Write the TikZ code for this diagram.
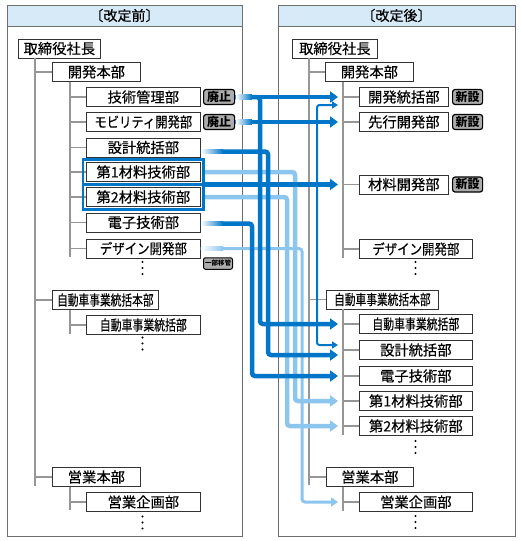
\documentclass[tikz,border=0pt]{standalone}
\usepackage{fontspec}
\newfontfamily\jp[FakeBold=0.35]{Noto Sans CJK JP}
\newfontfamily\jpb{Noto Sans CJK JP}
\usetikzlibrary{arrows.meta,calc,fit}
\definecolor{dk}{RGB}{0,118,200}
\definecolor{lt}{RGB}{140,198,238}
\definecolor{hdr}{RGB}{214,234,248}
\definecolor{gl}{RGB}{150,150,150}
\definecolor{pn}{RGB}{110,110,110}
\definecolor{tagfill}{RGB}{172,172,172}
\newcommand{\cond}[2]{\scalebox{#1}[1]{#2}}
\begin{document}
\begin{tikzpicture}[x=1pt,y=-1pt,
  box/.style={draw=black!80, line width=0.7pt, fill=white, minimum height=19pt, inner sep=0pt, anchor=west, font=\jp\fontsize{14.3}{14.3}\selectfont},
  tagbox/.style={draw=black, line width=1.2pt, fill=tagfill, rounded corners=2.5pt, minimum height=15pt, minimum width=31pt, inner sep=0pt, anchor=west, font=\jpb\bfseries\fontsize{12}{12}\selectfont},
  grayline/.style={draw=gl, line width=1.1pt},
  panel/.style={draw=pn, line width=1pt},
  title/.style={font=\jp\fontsize{14}{14}\selectfont, inner sep=0pt},
  dkline/.style={draw=dk, line width=4.5pt, rounded corners=3pt, -{Triangle[length=8pt,width=11pt]}},
  ltline/.style={draw=lt, line width=4.5pt, rounded corners=3pt, -{Triangle[length=8pt,width=11pt]}},
  thinline/.style={draw=dk, line width=2pt, rounded corners=2.5pt, {Triangle[length=6pt,width=7pt]}-{Triangle[length=6pt,width=7pt]}},
  dotmark/.style={fill=black}
]
\useasboundingbox (0,0) rectangle (520,541);
% panels
\filldraw[fill=hdr, panel] (7,5) rectangle (242,26);
\draw[panel] (7,5) rectangle (242,536);
\filldraw[fill=hdr, panel] (278,5) rectangle (515,26);
\draw[panel] (278,5) rectangle (515,536);
\node[title] (hL) at (124.5,15.5) {〔改定前〕};
\node[title] (hR) at (396.5,15.5) {〔改定後〕};

% ---------- tree trunk coordinates
\coordinate (kL1) at (35,58);
\coordinate (kL2) at (70,81.5);
\coordinate (kL3) at (70,309.5);
\coordinate (kL4) at (70,486.5);
\coordinate (kR1) at (309,58);
\coordinate (kR2) at (343,81.5);
\coordinate (kR3) at (343,309);
\coordinate (kR4) at (343,486.5);

% ---------- left nodes
\node[box, minimum width=82pt] (Lceo) at (18,48.5) {取締役社長};
\node[box, minimum width=88pt] (Ldev) at (52,72) {開発本部};
\node[box, minimum width=114pt] (Ltm) at (86,97) {技術管理部};
\node[box, minimum width=114pt] (Lmob) at (86,122) {\cond{0.86}{モビリティ開発部}};
\node[box, minimum width=114pt] (Lsek) at (86,147.5) {設計統括部};
\node[box, minimum width=114pt] (Lm1) at (86,172) {第1材料技術部};
\node[box, minimum width=114pt] (Lm2) at (86,197) {第2材料技術部};
\node[box, minimum width=114pt] (Lele) at (86,222.5) {電子技術部};
\node[box, minimum width=114pt] (Ldes) at (86,248.5) {\cond{0.87}{デザイン開発部}};
\node[box, minimum width=106pt] (Lauto) at (52,300) {\cond{0.75}{自動車事業統括本部}};
\node[box, minimum width=114pt] (Lab) at (86,325) {\cond{0.76}{自動車事業統括部}};
\node[box, minimum width=88pt] (Lsal) at (52,477) {営業本部};
\node[box, minimum width=114pt] (Lsp) at (86,502) {営業企画部};
\node[tagbox] (tg1) at (203,97) {廃止};
\node[tagbox] (tg2) at (203,122) {廃止};
\node[tagbox, minimum width=29pt, minimum height=11.5pt, rounded corners=2pt, line width=1pt, font=\jpb\bfseries\fontsize{6.5}{6.5}\selectfont] (tg3) at (203,263.5) {一部移管};

% ---------- right nodes
\node[box, minimum width=85pt] (Rceo) at (292,48.5) {取締役社長};
\node[box, minimum width=88pt] (Rdev) at (325,72) {開発本部};
\node[box, minimum width=89pt] (Rkt) at (359,97) {開発統括部};
\node[box, minimum width=89pt] (Rsk) at (359,122) {先行開発部};
\node[box, minimum width=89pt] (Rmat) at (359,184.5) {材料開発部};
\node[box, minimum width=113pt] (Rdes) at (359,249) {\cond{0.87}{デザイン開発部}};
\node[box, minimum width=112pt] (Rauto) at (326,299.5) {\cond{0.75}{自動車事業統括本部}};
\node[box, minimum width=113pt] (Rab) at (359,324) {\cond{0.76}{自動車事業統括部}};
\node[box, minimum width=113pt] (Rsek) at (359,350) {設計統括部};
\node[box, minimum width=113pt] (Rele) at (359,376) {電子技術部};
\node[box, minimum width=113pt] (Rm1) at (359,401) {第1材料技術部};
\node[box, minimum width=113pt] (Rm2) at (359,426) {第2材料技術部};
\node[box, minimum width=87pt] (Rsal) at (326,477) {営業本部};
\node[box, minimum width=113pt] (Rsp) at (359,502) {営業企画部};
\node[tagbox, minimum width=30pt] (tn1) at (452,97) {新設};
\node[tagbox, minimum width=30pt] (tn2) at (452,122) {新設};
\node[tagbox, minimum width=30pt] (tn3) at (452,184.5) {新設};

% ---------- gray tree lines
\draw[grayline] (kL1) -- ($(kL1 |- Lsal.west)+(0,9)$);
\draw[grayline] (kL2) -- ($(kL2 |- Ldes.west)+(0,8)$);
\draw[grayline] (kL3) -- ($(kL3 |- Lab.west)+(0,9)$);
\draw[grayline] (kL4) -- ($(kL4 |- Lsp.west)+(0,8)$);
\draw[grayline] (kR1) -- ($(kR1 |- Rsal.west)+(0,8)$);
\draw[grayline] (kR2) -- ($(kR2 |- Rdes.west)+(0,9)$);
\draw[grayline] (kR3) -- ($(kR3 |- Rm2.west)+(0,9)$);
\draw[grayline] (kR4) -- ($(kR4 |- Rsp.west)+(0,9)$);
\foreach \n in {Ldev,Lauto,Lsal} \draw[grayline] (kL1 |- \n.west) -- (\n.west);
\foreach \n in {Ltm,Lmob,Lsek,Lm1,Lm2,Lele,Ldes} \draw[grayline] (kL2 |- \n.west) -- (\n.west);
\draw[grayline] (kL3 |- Lab.west) -- (Lab.west);
\draw[grayline] (kL4 |- Lsp.west) -- (Lsp.west);
\foreach \n in {Rdev,Rauto,Rsal} \draw[grayline] (kR1 |- \n.west) -- (\n.west);
\foreach \n in {Rkt,Rsk,Rmat,Rdes} \draw[grayline] (kR2 |- \n.west) -- (\n.west);
\foreach \n in {Rab,Rsek,Rele,Rm1,Rm2} \draw[grayline] (kR3 |- \n.west) -- (\n.west);
\draw[grayline] (kR4 |- Rsp.west) -- (Rsp.west);

% dots
\foreach \px/\py in {142.5/268,142.5/343.5,142.5/522.5,415.5/268,415.5/447,415.5/522}
  \foreach \d in {-6,0,6} \fill[dotmark] (\px,{\py+\d}) circle (1.15pt);

% ---------- connectors
\coordinate (tA) at ($(Rkt.west)+(-21,0)$);
\coordinate (tG1) at ($(Rkt.west)+(-21,8)$);
\coordinate (tC) at ($(Rsk.west)+(-21,0)$);
\coordinate (tE) at ($(Rmat.west)+(-21,0)$);
\coordinate (tB) at ($(Rab.west)+(-21,0)$);
\coordinate (tG2) at ($(Rsek.west)+(-21,-5)$);
\coordinate (tD) at ($(Rsek.west)+(-21,5)$);
\coordinate (tF) at ($(Rele.west)+(-21,0)$);
\coordinate (tH) at ($(Rm1.west)+(-21,0)$);
\coordinate (tI) at ($(Rm2.west)+(-21,0)$);
\coordinate (tJ) at ($(Rsp.west)+(-21,0)$);
\coordinate (xF) at (252,0);
\coordinate (xB) at (260,0);
\coordinate (xD) at (268,0);
\coordinate (xI) at (287,0);
\coordinate (xH) at (295,0);
\coordinate (xJ) at (302,0);
\coordinate (xG) at (317,0);

\node[fit=(Lm1)(Lm2), inner sep=2.5pt] (frm) {};

\draw[ltline, line width=3pt, -{Triangle[length=7pt,width=9pt]}] (Ldes.east) -| (xJ |- tJ) -- (tJ);
\draw[ltline] (Lm2.east -| frm.east) -| (xI |- tI) -- (tI);
\draw[ltline] (Lm1.east -| frm.east) -| (xH |- tH) -- (tH);
\draw[thinline] (tG1) -| (xG |- tG2) -- (tG2);
\draw[dkline] (tg1.east) -| (xB |- tB) -- (tB);
\draw[dkline] (tg1.east) -- (tA);
\draw[dkline] (tg2.east) -- (tC);
\draw[dkline] ($(Lsek.east)+(0,4)$) -| (xD |- tD) -- (tD);
\draw[dkline] ($(Lele.east)+(0,1)$) -| (xF |- tF) -- (tF);
\draw[dkline] (frm.east) -- (tE);

% fade-in at starts
\shade[left color=white, right color=dk] ($(tg1.east)+(0.6,-2.3)$) rectangle ++(16,4.6);
\shade[left color=white, right color=dk] ($(tg2.east)+(0.6,-2.3)$) rectangle ++(16,4.6);
\shade[left color=white, right color=dk] ($(Lsek.east)+(0.4,1.7)$) rectangle ++(22,4.6);
\shade[left color=white, right color=dk] ($(Lele.east)+(0.4,-1.3)$) rectangle ++(22,4.6);
\shade[left color=white, right color=lt] ($(Ldes.east)+(0.4,-1.55)$) rectangle ++(22,3.1);

% blue frame around the two material boxes
\draw[dk, line width=2.2pt] (frm.north west) rectangle (frm.south east);
\draw[dk, line width=2.2pt] (frm.west) -- (frm.east);
\end{tikzpicture}
\end{document}
